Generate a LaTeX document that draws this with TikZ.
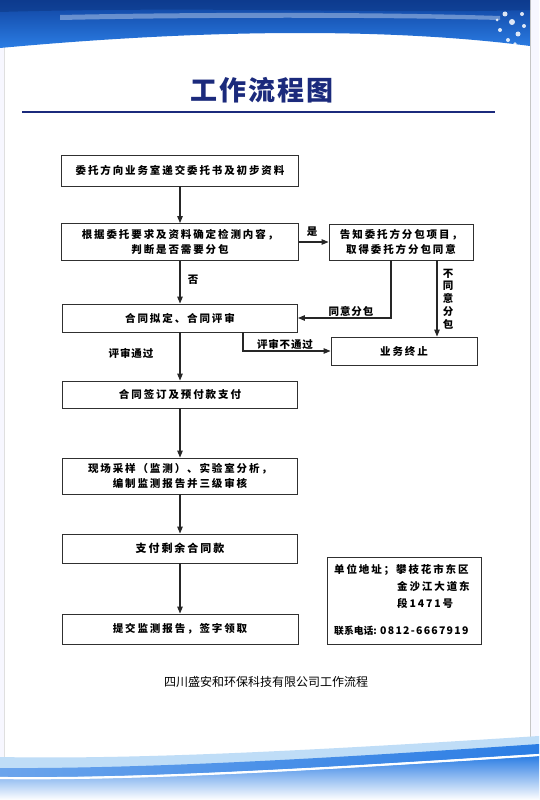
\documentclass[tikz,border=0pt]{standalone}
\usepackage{fontspec}
\usetikzlibrary{arrows.meta}
\newfontfamily\cjk{Noto Sans CJK SC}
\newfontfamily\cjksp[LetterSpace=18]{Noto Sans CJK SC}
\newfontfamily\cjkdig[LetterSpace=12]{Noto Sans CJK SC}
\newfontfamily\cjklab[LetterSpace=8]{Noto Sans CJK SC}
\newfontfamily\cjktitle[LetterSpace=8]{Noto Sans CJK SC}
\definecolor{navy}{HTML}{1B2A7C}
\definecolor{bandtop}{HTML}{0F429F}
\definecolor{bandbot}{HTML}{2B7DE4}
\definecolor{lightband}{HTML}{BFDDF7}
\definecolor{boxline}{HTML}{303030}
\tikzset{
  stepbox/.style={draw=boxline, line width=0.9pt, fill=white, align=center,
    inner sep=2pt, font=\cjksp\bfseries\fontsize{10.5}{15}\selectfont},
  arr/.style={draw=black!85, line width=1.1pt, -{Triangle[length=7pt,width=5.5pt]}},
  lab/.style={font=\cjklab\bfseries\fontsize{10.5}{12.5}\selectfont, inner sep=1pt, align=center},
  infotext/.style={font=\cjksp\bfseries\fontsize{10.5}{13}\selectfont, anchor=west, inner sep=0pt}
}
\begin{document}
\begin{tikzpicture}[x=1pt,y=-1pt]
\useasboundingbox (0,0) rectangle (539,800);
% page background
\fill[white!97!blue] (0,0) rectangle (539,800);
\fill[white] (4,0) rectangle (530,800);
\draw[gray!45, line width=0.8pt] (530,0) -- (530,800);
\draw[gray!25, line width=0.6pt] (4,0) -- (4,800);
% top band
\shade[top color=bandtop, bottom color=bandbot]
  (0,0) -- (530,0) -- (530,46) .. controls (430,33) and (260,24) .. (0,48) -- cycle;
\fill[bandtop!80!black, opacity=0.5] (0,0) -- (530,0) -- (530,10) .. controls (400,14) and (200,6) .. (0,12) -- cycle;
\fill[white, opacity=0.35] (60,15) .. controls (200,12) and (380,12) .. (500,16) -- (500,20) .. controls (380,17) and (200,17) .. (60,20) -- cycle;
\foreach \px/\py/\pr in {505/14/2.5, 512/22/3, 500/30/2, 518/34/2.5, 508/40/2, 522/14/2, 497/20/1.5, 515/44/1.8, 524/26/2}
  \fill[white, opacity=0.85] (\px,\py) circle (\pr);
% bottom band
\fill[lightband] (0,757) .. controls (150,760) and (350,748) .. (539,736) -- (539,800) -- (0,800) -- cycle;
\shade[left color=bandbot!70!white, right color=bandbot]
  (0,768) .. controls (150,769) and (350,757) .. (539,744) -- (539,754) .. controls (350,766) and (150,779) .. (0,777) -- cycle;
\shade[top color=bandbot, bottom color=white]
  (0,779) .. controls (150,781) and (350,768) .. (539,756) -- (539,800) -- (0,800) -- cycle;
\draw[white, line width=2.2pt] (0,778) .. controls (150,780) and (350,767) .. (539,755);
% title
\node[font=\cjktitle\bfseries\fontsize{27}{27}\selectfont, text=navy] (title) at (262,90) {工作流程图};
\draw[navy, line width=2pt] (22,112) -- (495,112);
% boxes
\node[stepbox, minimum width=237pt, minimum height=31pt] (b1) at (180,170.5) {委托方向业务室递交委托书及初步资料};
\node[stepbox, minimum width=237pt, minimum height=37pt] (b2) at (180,242) {根据委托要求及资料确定检测内容，\\判断是否需要分包};
\node[stepbox, minimum width=144pt, minimum height=36pt] (b3) at (401,242) {告知委托方分包项目，\\取得委托方分包同意};
\node[stepbox, minimum width=235pt, minimum height=28pt] (b4) at (180,318) {合同拟定、合同评审};
\node[stepbox, minimum width=146pt, minimum height=28pt] (b5) at (404,351) {业务终止};
\node[stepbox, minimum width=235pt, minimum height=27pt] (b6) at (180,394.5) {合同签订及预付款支付};
\node[stepbox, minimum width=235pt, minimum height=36pt] (b7) at (180,476) {现场采样（监测）、实验室分析，\\编制监测报告并三级审核};
\node[stepbox, minimum width=235pt, minimum height=29pt, font=\cjksp\bfseries\fontsize{11}{15}\selectfont] (b8) at (180,548.5) {支付剩余合同款};
\node[stepbox, minimum width=236pt, minimum height=30pt] (b9) at (180,629) {提交监测报告，签字领取};
\node[draw=boxline, line width=0.9pt, minimum width=154pt, minimum height=87pt] (info) at (404,600.5) {};
% info text
\node[infotext] (i1) at (334,570) {单位地址；攀枝花市东区};
\node[infotext] (i2) at (397,587) {金沙江大道东};
\node[infotext] (i3) at (397,603) {段1471号};
\node[infotext, font=\cjk\bfseries\fontsize{9.8}{13}\selectfont] (i4) at (334,631) {联系电话:};
\node[infotext, font=\cjkdig\bfseries\fontsize{10.5}{13}\selectfont] (i5) at (380,631) {0812-6667919};
% connectors
\coordinate (xa) at (391,0);
\coordinate (xb) at (437,0);
\coordinate (xc) at (243,0);
\draw[arr] (b1) -- (b2);
\draw[arr] (b2) -- (b4);
\draw[arr] (b2) -- (b3);
\draw[arr] (b3.south -| xa) |- (b4.east);
\draw[arr] (b3.south -| xb) -- (b5.north -| xb);
\draw[arr] (b4.south -| xc) |- (b5.west);
\draw[arr] (b4) -- (b6);
\draw[arr] (b6) -- (b7);
\draw[arr] (b7) -- (b8);
\draw[arr] (b8) -- (b9);
% labels
\node[lab] (lyes) at (312,232) {是};
\node[lab] (lno) at (193,280) {否};
\node[lab] (lagree) at (351,311) {同意分包};
\node[lab, font=\cjk\bfseries\fontsize{10.5}{12.8}\selectfont] (ldis) at (448,299) {不\\同\\意\\分\\包};
\node[lab] (lfail) at (285,344) {评审不通过};
\node[lab] (lpass) at (131,353) {评审通过};
% footer
\node[font=\cjk\fontsize{12}{12}\selectfont] (footer) at (266,682) {四川盛安和环保科技有限公司工作流程};
\end{tikzpicture}
\end{document}
